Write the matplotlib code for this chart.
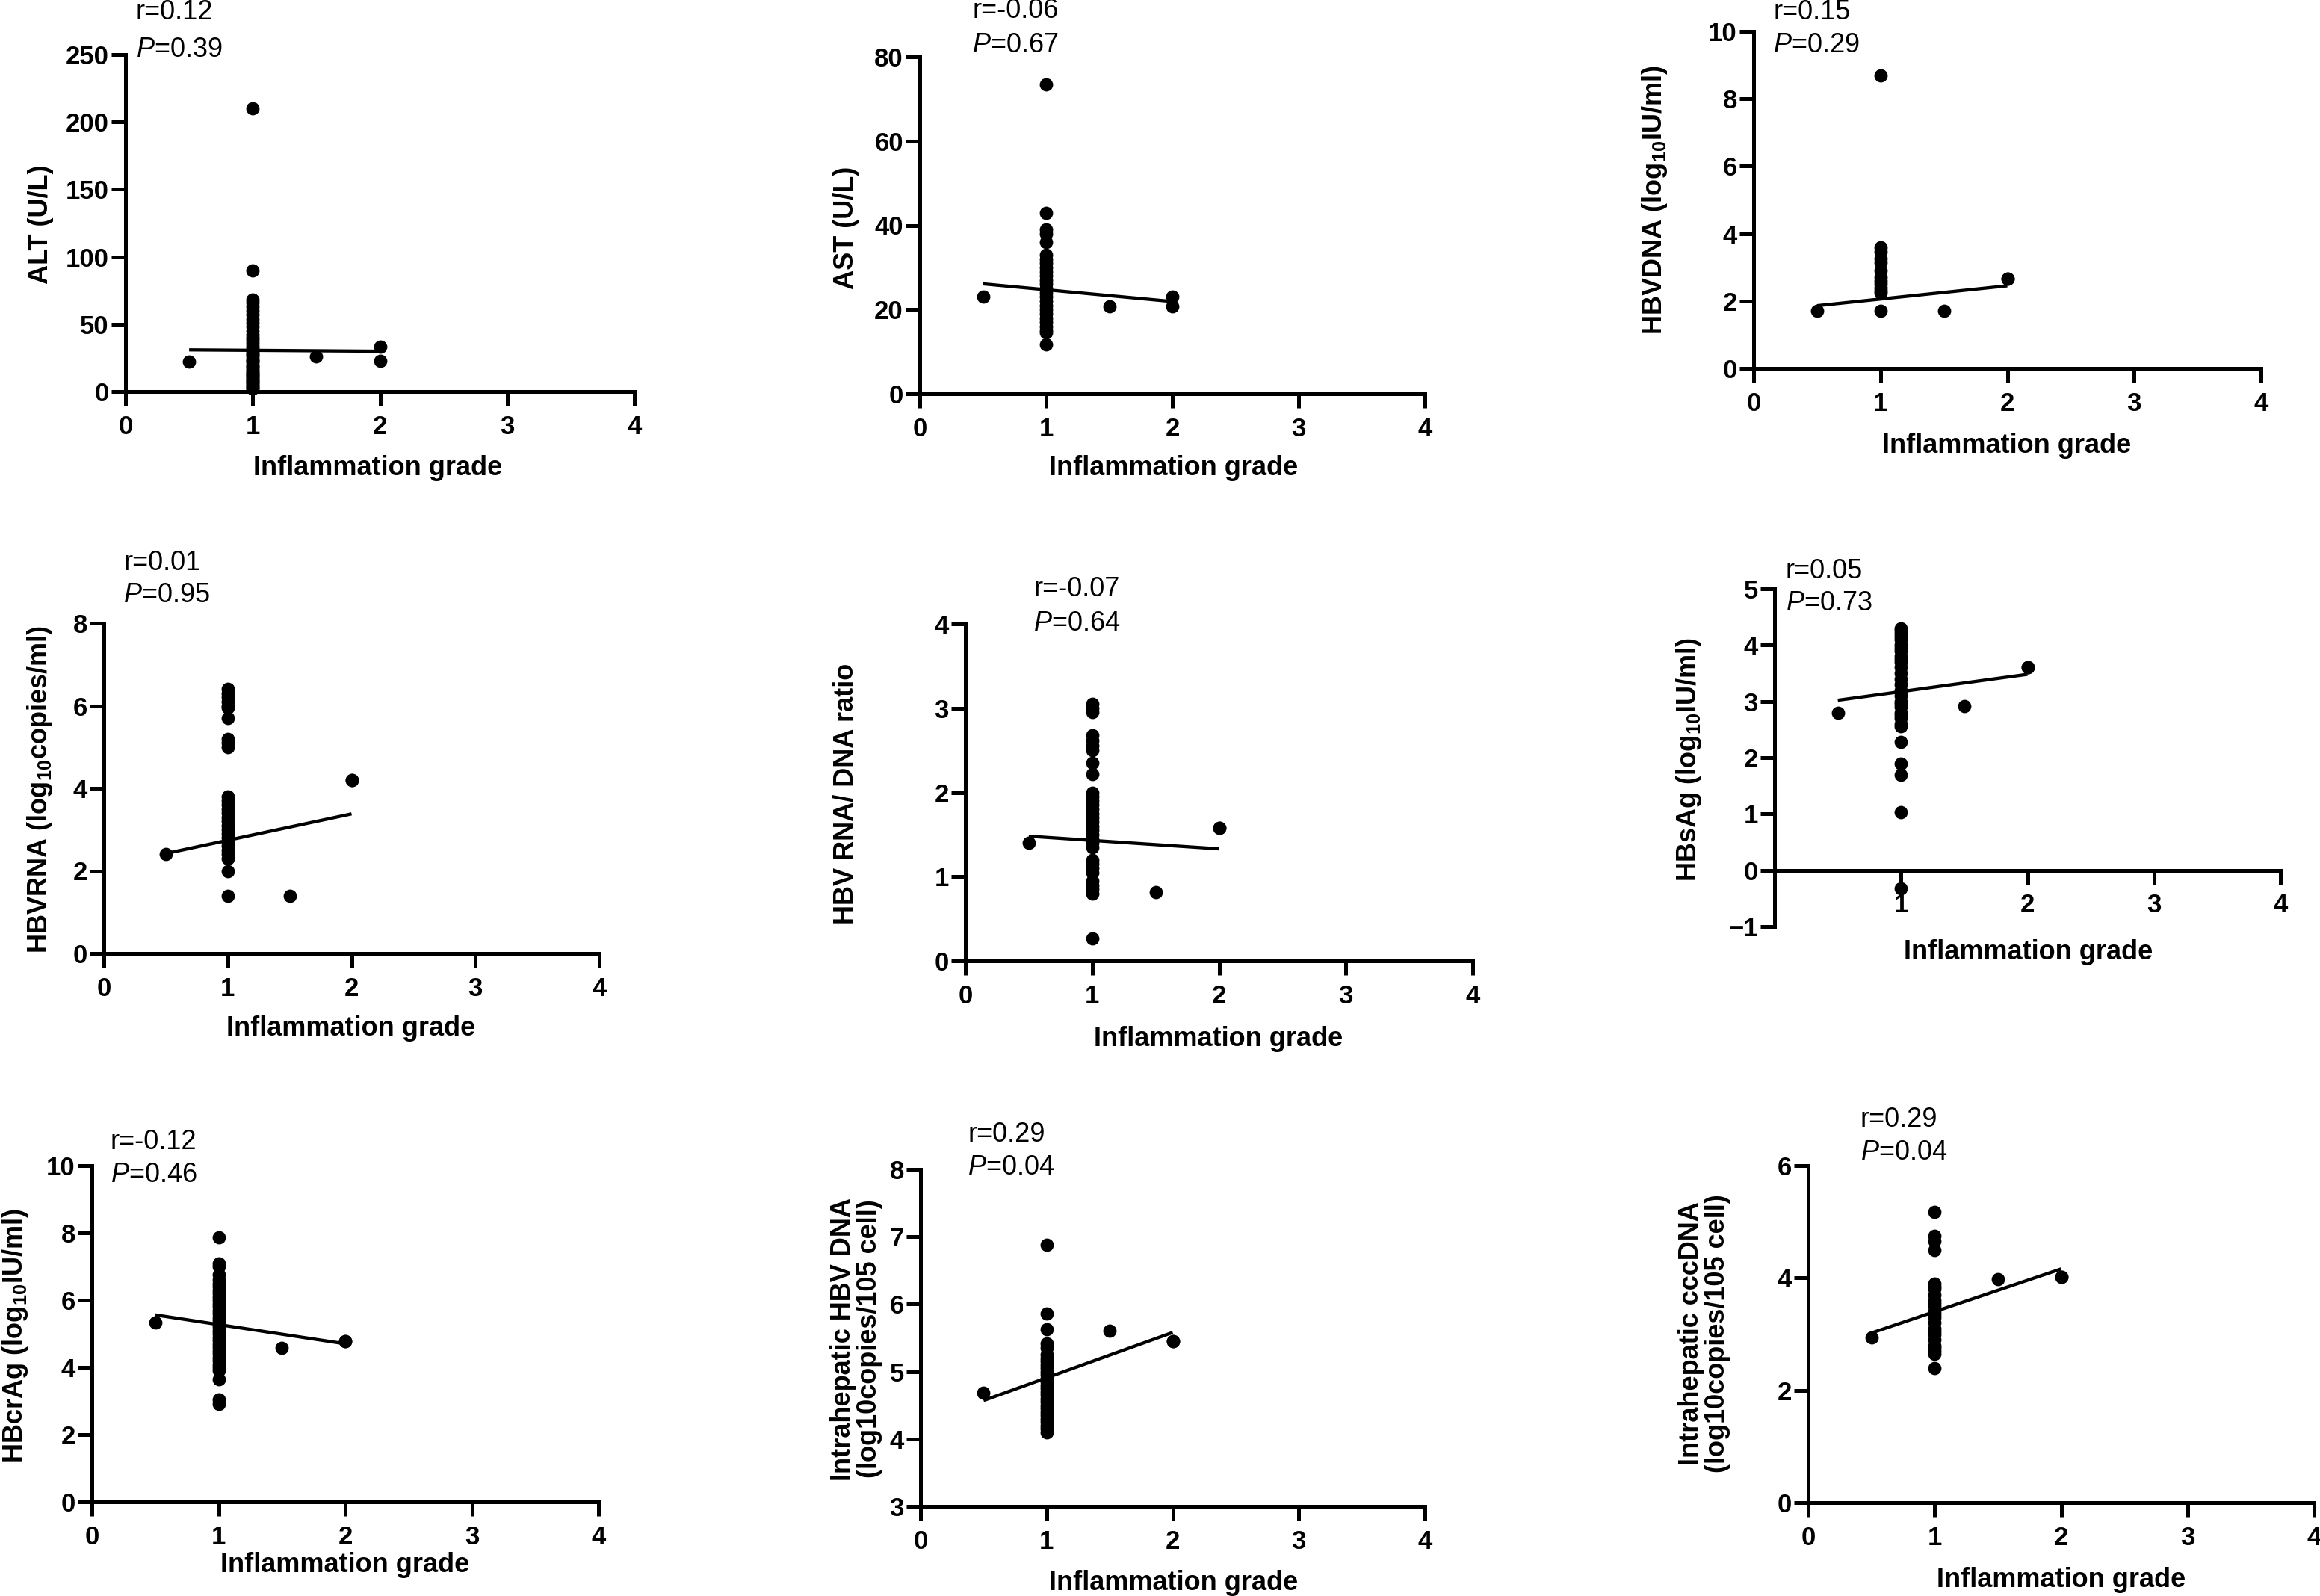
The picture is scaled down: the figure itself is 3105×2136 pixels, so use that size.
import numpy as np
import matplotlib
matplotlib.use("Agg")
import matplotlib.pyplot as plt

plt.rcParams["font.family"] = ["Liberation Sans", "DejaVu Sans"]
plt.rcParams["font.weight"] = "bold"
plt.rcParams["mathtext.fontset"] = "custom"
plt.rcParams["mathtext.rm"] = "Liberation Sans:bold"
plt.rcParams["mathtext.bf"] = "Liberation Sans:bold"
plt.rcParams["mathtext.it"] = "Liberation Sans:style=italic:weight=normal"

# ---- data ----
# values of patients with inflammation grade 1
alt_g1 = [210, 90, 68, 66, 63, 60, 57, 54, 51, 48, 45, 42, 40, 38, 36, 34, 32, 30,
          28, 27, 26, 24, 23, 22, 20, 19, 18, 16, 15, 14, 13, 12, 11, 10, 9, 8, 7,
          6, 5, 4, 3, 2]
ast_g1 = [73.5, 43, 39, 38, 36, 33, 32, 31, 30, 29, 28, 27, 26, 25, 24, 23, 22,
          21, 20, 19, 18, 17, 16, 15, 14.5, 11.7]
dna_g1 = [8.7, 3.6, 3.45, 3.25, 3.15, 2.9, 2.7, 2.6, 2.5, 2.4, 2.3, 2.25, 1.7]
rna_g1 = [6.4, 6.3, 6.2, 6.1, 6.0, 5.95, 5.7, 5.2, 5.1, 5.0, 3.8, 3.7, 3.6, 3.5,
          3.4, 3.3, 3.2, 3.1, 3.0, 2.9, 2.8, 2.7, 2.6, 2.5, 2.4, 2.3, 2.0, 1.4]
ratio_g1 = [3.05, 3.0, 2.95, 2.68, 2.62, 2.55, 2.5, 2.35, 2.22, 2.0, 1.95, 1.9,
            1.85, 1.8, 1.75, 1.7, 1.65, 1.6, 1.55, 1.5, 1.45, 1.4, 1.35, 1.2,
            1.15, 1.1, 1.05, 0.95, 0.9, 0.85, 0.8, 0.27]
hbsag_g1 = [4.3, 4.25, 4.2, 4.15, 4.1, 4.0, 3.95, 3.9, 3.8, 3.75, 3.7, 3.6, 3.5,
            3.4, 3.3, 3.2, 3.1, 3.0, 2.95, 2.9, 2.8, 2.75, 2.7, 2.6, 2.56, 2.28,
            1.89, 1.7, 1.03, -0.32]
hbcrag_g1 = [7.86, 7.1, 7.0, 6.75, 6.6, 6.5, 6.4, 6.3, 6.2, 6.1, 6.0, 5.9, 5.8,
             5.7, 5.6, 5.5, 5.4, 5.3, 5.2, 5.1, 5.0, 4.9, 4.8, 4.7, 4.6, 4.5, 4.4,
             4.3, 4.2, 4.1, 4.0, 3.92, 3.65, 3.05, 2.92]
ihdna_g1 = [6.88, 5.86, 5.63, 5.42, 5.35, 5.25, 5.2, 5.15, 5.1, 5.05, 5.0, 4.95,
            4.9, 4.85, 4.8, 4.75, 4.7, 4.65, 4.6, 4.55, 4.5, 4.45, 4.4, 4.35, 4.3,
            4.25, 4.2, 4.15, 4.1]
ccc_g1 = [5.18, 4.75, 4.65, 4.5, 3.9, 3.85, 3.8, 3.7, 3.6, 3.55, 3.5, 3.4, 3.35,
          3.3, 3.2, 3.1, 3.05, 3.0, 2.9, 2.8, 2.75, 2.7, 2.65, 2.4]

# patients with other grades
other_grade = [0.5, 1.5, 2, 2]
alt_other = [22, 26, 33, 23]
ast_other = [23, 20.7, 23, 20.8]
dna_other = [1.7, 1.7, 2.65, 2.65]
rna_other = [2.4, 1.4, 4.2, 4.2]
ratio_other = [1.4, 0.82, 1.58, 1.58]
hbsag_other = [2.79, 2.92, 3.6, 3.6]
hbcrag_other = [5.33, 4.57, 4.78, 4.78]
ihdna_other = [4.69, 5.61, 5.45, 5.45]
ccc_other = [2.94, 3.98, 4.02, 4.02]

# linear fit, values at grade 0.5 and grade 2
fit_x = [0.5, 2]
alt_fit = [30.9, 29.9]
ast_fit = [26.1, 21.9]
dna_fit = [1.86, 2.45]
rna_fit = [2.42, 3.38]
ratio_fit = [1.48, 1.33]
hbsag_fit = [3.02, 3.48]
hbcrag_fit = [5.56, 4.70]
ihdna_fit = [4.57, 5.58]
ccc_fit = [3.02, 4.16]

r_values = ["0.12", "-0.06", "0.15", "0.01", "-0.07", "0.05", "-0.12", "0.29", "0.29"]
p_values = ["0.39", "0.67", "0.29", "0.95", "0.64", "0.73", "0.46", "0.04", "0.04"]

ylabels = [
    "ALT (U/L)",
    "AST (U/L)",
    "HBVDNA (log$_{10}$IU/ml)",
    "HBVRNA (log$_{10}$copies/ml)",
    "HBV RNA/ DNA ratio",
    "HBsAg (log$_{10}$IU/ml)",
    "HBcrAg (log$_{10}$IU/ml)",
    "Intrahepatic HBV DNA\n(log10copies/105 cell)",
    "Intrahepatic cccDNA\n(log10copies/105 cell)",
]
yticks = [
    [0, 50, 100, 150, 200, 250],
    [0, 20, 40, 60, 80],
    [0, 2, 4, 6, 8, 10],
    [0, 2, 4, 6, 8],
    [0, 1, 2, 3, 4],
    [-1, 0, 1, 2, 3, 4, 5],
    [0, 2, 4, 6, 8, 10],
    [3, 4, 5, 6, 7, 8],
    [0, 2, 4, 6],
]
g1_vals = [alt_g1, ast_g1, dna_g1, rna_g1, ratio_g1, hbsag_g1, hbcrag_g1, ihdna_g1, ccc_g1]
other_vals = [alt_other, ast_other, dna_other, rna_other, ratio_other, hbsag_other,
              hbcrag_other, ihdna_other, ccc_other]
fits = [alt_fit, ast_fit, dna_fit, rna_fit, ratio_fit, hbsag_fit, hbcrag_fit, ihdna_fit, ccc_fit]

# ---- layout in pixels of the 3105x2136 picture ----
W, H = 3105, 2136
# axes box: left, right, top, bottom
boxes = [(168, 849, 73, 524), (1231, 1907, 76, 527), (2347, 3026, 42, 493),
         (139, 802, 834, 1276), (1292, 1971, 835, 1286), (2375, 3052, 788, 1240),
         (123, 801, 1560, 2010), (1232, 1907, 1565, 2016), (2420, 3097, 1560, 2011)]
# r / P text: left x, y of r line, y of P line
stat_pos = [(182, 17, 66), (1301, 15, 61), (2373, 17, 61),
            (165, 754, 796), (1383, 789, 834), (2390, 764, 807),
            (148, 1528, 1573), (1295, 1519, 1563), (2490, 1498, 1542)]
ylab_pos = [(54, 300), (1133, 305), (2214, 268), (54, 1056), (1132, 1062),
            (2260, 1017), (21, 1788), (1146, 1792), (2281, 1785)]
xlab_pos = [(506, 626), (1571, 626), (2686, 596), (470, 1376), (1631, 1391),
            (2715, 1274), (462, 2095), (1571, 2119), (2759, 2114)]


def fx(px):
    return px / W


def fy(py):
    return 1 - py / H


fig = plt.figure(figsize=(W / 100, H / 100), dpi=100)

for i in range(9):
    left, right, top, bottom = boxes[i]
    ax = fig.add_axes([fx(left), fy(bottom), (right - left) / W, (bottom - top) / H])

    g1 = g1_vals[i]
    ax.scatter(np.ones(len(g1)), g1, s=165, color="black", zorder=3, clip_on=False,
               linewidths=0)
    ax.scatter(other_grade, other_vals[i], s=165, color="black", zorder=3,
               clip_on=False, linewidths=0)
    ax.plot(fit_x, fits[i], color="black", lw=3.1, zorder=4, solid_capstyle="butt")

    ax.set_xlim(0, 4)
    ax.set_ylim(yticks[i][0], yticks[i][-1])
    ax.set_yticks(yticks[i])
    if i == 5:
        ax.set_xticks([1, 2, 3, 4])
        ax.spines["bottom"].set_position(("data", 0))
    else:
        ax.set_xticks([0, 1, 2, 3, 4])

    for side in ["top", "right"]:
        ax.spines[side].set_visible(False)
    for side in ["left", "bottom"]:
        ax.spines[side].set_linewidth(3.6)
        ax.spines[side].set_capstyle("projecting")
    ax.tick_params(direction="out", length=14, width=3.6, labelsize=25)
    ax.tick_params(axis="x", pad=8)
    ax.tick_params(axis="y", pad=2)
    ax.patch.set_alpha(0)

    sx, ry, py = stat_pos[i]
    fig.text(fx(sx), fy(ry), f"r={r_values[i]}", fontsize=26, fontweight="normal",
             ha="left", va="center")
    fig.text(fx(sx), fy(py), f"$P$={p_values[i]}", fontsize=26, fontweight="normal",
             ha="left", va="center")

    lx, ly = ylab_pos[i]
    fig.text(fx(lx), fy(ly), ylabels[i], fontsize=26, rotation=90,
             ha="center", va="center", multialignment="center", linespacing=1.0)
    gx, gy = xlab_pos[i]
    fig.text(fx(gx), fy(gy), "Inflammation grade", fontsize=26,
             ha="center", va="center")

fig.savefig("out.png", dpi=100, facecolor="white")
